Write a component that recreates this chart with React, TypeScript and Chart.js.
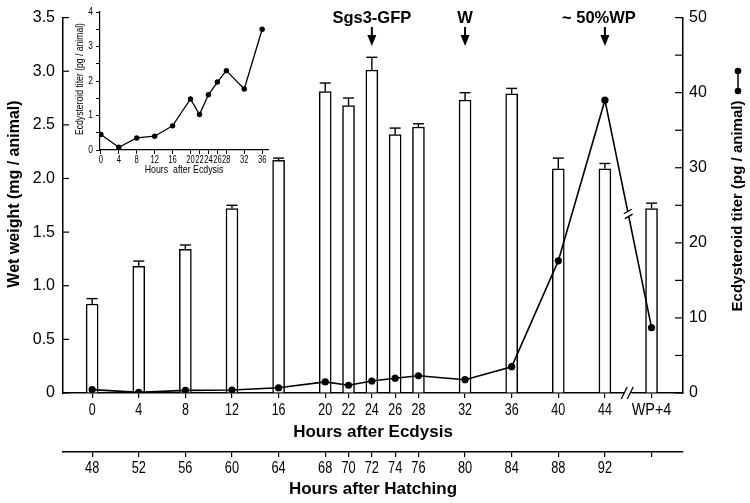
import React, { useEffect, useRef } from 'react';
import { Chart, registerables } from 'chart.js';

Chart.register(...registerables);

// ---------- data ----------
const ecdysisHours = [0, 4, 8, 12, 16, 20, 22, 24, 26, 28, 32, 36, 40, 44, 48];
const ecdysisLabels = ['0', '4', '8', '12', '16', '20', '22', '24', '26', '28', '32', '36', '40', '44', 'WP+4'];
const hatchingLabels = ['48', '52', '56', '60', '64', '68', '70', '72', '74', '76', '80', '84', '88', '92', ''];
const wetWeight = [0.83, 1.18, 1.34, 1.72, 2.17, 2.81, 2.68, 3.01, 2.41, 2.48, 2.73, 2.79, 2.09, 2.09, 1.72];
const wetWeightErr = [0.05, 0.05, 0.04, 0.03, 0.02, 0.08, 0.07, 0.12, 0.06, 0.03, 0.07, 0.05, 0.1, 0.05, 0.05];
const titer = [0.45, 0.08, 0.35, 0.4, 0.7, 1.48, 1.03, 1.6, 1.97, 2.3, 1.77, 3.5, 17.6, 39.0, 8.7];
const insetHours = [0, 4, 8, 12, 16, 20, 22, 24, 26, 28, 32, 36];
const insetTiter = [0.45, 0.08, 0.35, 0.4, 0.7, 1.48, 1.03, 1.6, 1.97, 2.3, 1.77, 3.5];
const insetYLabels = [0, 1, 2, 3, 4];
const markerHours = [24, 32, 44];
const markerTexts = ['Sgs3-GFP', 'W', '~ 50%WP'];
const breakHour = 46;

const SANS = '"Liberation Sans", Arial, Helvetica, sans-serif';

// draw horizontally condensed text
function narrowText(
  ctx: CanvasRenderingContext2D,
  text: string,
  x: number,
  y: number,
  sx: number,
  align: CanvasTextAlign = 'center'
) {
  ctx.save();
  ctx.translate(x, y);
  ctx.scale(sx, 1);
  ctx.textAlign = align;
  ctx.fillText(text, 0, 0);
  ctx.restore();
}

const decorPlugin = {
  id: 'decor',
  afterDraw(chart: any) {
    const ctx = chart.ctx as CanvasRenderingContext2D;
    const xs = chart.scales.x;
    const ys = chart.scales.y;
    const y2s = chart.scales.y2;
    const area = chart.chartArea;
    const line = (x1: number, y1: number, x2: number, y2: number) => {
      ctx.beginPath();
      ctx.moveTo(x1, y1);
      ctx.lineTo(x2, y2);
      ctx.stroke();
    };
    ctx.save();
    ctx.strokeStyle = '#000';
    ctx.fillStyle = '#000';
    ctx.lineWidth = 1.2;
    // inward ticks
    ys.ticks.forEach((t: any) => {
      const py = ys.getPixelForValue(t.value);
      line(area.left, py, area.left + 6, py);
    });
    y2s.ticks.forEach((t: any) => {
      const py = y2s.getPixelForValue(t.value);
      line(area.right - 8, py, area.right, py);
    });
    // error bars
    ctx.lineWidth = 1.4;
    ecdysisHours.forEach((h, i) => {
      const px = xs.getPixelForValue(h);
      const top = ys.getPixelForValue(wetWeight[i]);
      const e = ys.getPixelForValue(wetWeight[i] + wetWeightErr[i]);
      line(px, top, px, e);
      line(px - 5.5, e, px + 5.5, e);
    });
    // x tick labels (condensed)
    ctx.font = `16px ${SANS}`;
    ctx.textBaseline = 'middle';
    ecdysisHours.forEach((h, i) => {
      const px = xs.getPixelForValue(h);
      const lab = ecdysisLabels[i];
      narrowText(ctx, lab, px, 411, lab.length > 2 ? 0.9 : 0.78);
      narrowText(ctx, hatchingLabels[i], px, 469, 0.8);
    });
    // axis break
    const bx = xs.getPixelForValue(breakHour);
    const by = area.bottom;
    ctx.fillStyle = '#fff';
    ctx.fillRect(bx - 4, by - 2, 7, 4);
    ctx.fillStyle = '#000';
    ctx.lineWidth = 1.3;
    line(bx - 7, by + 6, bx - 1, by - 6);
    line(bx - 1, by + 6, bx + 5, by - 6);
    // line break
    const i44 = ecdysisHours.indexOf(44);
    const i48 = ecdysisHours.indexOf(48);
    const ax = xs.getPixelForValue(44), ay = y2s.getPixelForValue(titer[i44]);
    const cx2 = xs.getPixelForValue(48), cy2 = y2s.getPixelForValue(titer[i48]);
    const t = (bx - ax) / (cx2 - ax);
    const mx = ax + t * (cx2 - ax), my = ay + t * (cy2 - ay);
    const len = Math.hypot(cx2 - ax, cy2 - ay);
    const dx = (cx2 - ax) / len, dy = (cy2 - ay) / len;
    ctx.strokeStyle = '#fff';
    ctx.lineWidth = 4;
    line(mx - dx * 2.5, my - dy * 2.5, mx + dx * 2.5, my + dy * 2.5);
    ctx.strokeStyle = '#000';
    ctx.lineWidth = 1.3;
    [-2.5, 2.5].forEach((o) => {
      const px = mx + dx * o, py = my + dy * o;
      line(px - 4.5 * 0.87, py + 4.5 * 0.5, px + 4.5 * 0.87, py - 4.5 * 0.5);
    });
    // annotations
    ctx.font = `bold 16.5px ${SANS}`;
    ctx.textAlign = 'center';
    ctx.textBaseline = 'middle';
    markerHours.forEach((h, i) => {
      const px = xs.getPixelForValue(h);
      const off = i === 2 ? -6 : 0;
      ctx.fillText(markerTexts[i], px + off, 18);
      ctx.lineWidth = 2;
      line(px, 27, px, 36);
      ctx.beginPath();
      ctx.moveTo(px - 4.5, 35);
      ctx.lineTo(px + 4.5, 35);
      ctx.lineTo(px, 46);
      ctx.closePath();
      ctx.fill();
    });
    // left title
    ctx.save();
    ctx.translate(15, 194);
    ctx.rotate(-Math.PI / 2);
    ctx.font = `bold 16px ${SANS}`;
    ctx.fillText('Wet weight (mg / animal)', 0, 0);
    ctx.restore();
    // right title
    ctx.save();
    ctx.translate(738, 206);
    ctx.rotate(-Math.PI / 2);
    ctx.font = `bold 15px ${SANS}`;
    ctx.fillText('Ecdysteroid titer (pg / animal)', 0, 0);
    ctx.restore();
    // legend marker
    ctx.lineWidth = 1.5;
    line(738, 71, 738, 91);
    [71, 91].forEach((yy) => {
      ctx.beginPath();
      ctx.arc(738, yy, 3.3, 0, Math.PI * 2);
      ctx.fill();
    });
    ctx.restore();
  },
};

const insetPlugin = {
  id: 'insetText',
  afterDraw(chart: any) {
    const ctx = chart.ctx as CanvasRenderingContext2D;
    const xs = chart.scales.x;
    const ys = chart.scales.y;
    const area = chart.chartArea;
    ctx.save();
    ctx.fillStyle = '#000';
    ctx.textBaseline = 'middle';
    ctx.font = `10px ${SANS}`;
    insetHours.forEach((h) => {
      narrowText(ctx, String(h), xs.getPixelForValue(h), area.bottom + 10, 0.76);
    });
    insetYLabels.forEach((v) => {
      narrowText(ctx, String(v), area.left - 7, ys.getPixelForValue(v), 0.84, 'right');
    });
    ctx.font = `11px ${SANS}`;
    narrowText(ctx, 'Hours  after Ecdysis', (area.left + area.right) / 2, area.bottom + 20, 0.8);
    ctx.save();
    ctx.translate(20, (area.top + area.bottom) / 2 - 2);
    ctx.rotate(-Math.PI / 2);
    ctx.scale(0.82, 1);
    ctx.font = `10.5px ${SANS}`;
    ctx.textAlign = 'center';
    ctx.fillText('Ecdysteroid titer (pg / animal)', 0, 0);
    ctx.restore();
    ctx.restore();
  },
};

export default function App() {
  const mainRef = useRef<HTMLCanvasElement>(null);
  const insetRef = useRef<HTMLCanvasElement>(null);

  useEffect(() => {
    Chart.defaults.font.family = SANS;
    Chart.defaults.color = '#000';
    const bottomAxis = (title: string, height: number, weight: number, titlePad: number) => ({
      type: 'linear',
      position: 'bottom',
      min: -2.5,
      max: 50.7,
      offset: false,
      weight,
      afterFit: (s: any) => {
        s.height = height;
      },
      afterBuildTicks: (s: any) => {
        s.ticks = ecdysisHours.map((v) => ({ value: v }));
      },
      ticks: { display: false, autoSkip: false, maxRotation: 0 },
      grid: {
        offset: false,
        drawOnChartArea: false,
        drawTicks: true,
        tickLength: 5,
        color: '#000',
        lineWidth: 1.2,
      },
      border: { color: '#000', width: 1.5 },
      title: {
        display: true,
        text: title,
        color: '#000',
        font: { family: SANS, size: 17, weight: 'bold' },
        padding: { top: 0, bottom: titlePad },
      },
    });

    const main = new Chart(mainRef.current!, {
      type: 'bar',
      data: {
        datasets: [
          {
            type: 'line',
            label: 'Ecdysteroid titer',
            data: ecdysisHours.map((h, i) => ({ x: h, y: titer[i] })),
            xAxisID: 'x',
            yAxisID: 'y2',
            borderColor: '#000',
            borderWidth: 1.6,
            pointRadius: 3.6,
            pointBackgroundColor: '#000',
            pointBorderWidth: 0,
            tension: 0,
            order: 0,
          } as any,
          {
            type: 'bar',
            label: 'Wet weight',
            data: ecdysisHours.map((h, i) => ({ x: h, y: wetWeight[i] })),
            xAxisID: 'x',
            yAxisID: 'y',
            backgroundColor: '#fff',
            borderColor: '#000',
            borderWidth: 1.5,
            barThickness: 12,
            order: 1,
          } as any,
        ],
      },
      options: {
        responsive: false,
        animation: false,
        layout: { padding: { top: 12, left: 0, right: 0, bottom: 0 } },
        plugins: { legend: { display: false }, tooltip: { enabled: false } },
        scales: {
          x: bottomAxis('Hours after Ecdysis', 59, 0, 9) as any,
          x2: bottomAxis('Hours after Hatching', 51, 1, 3) as any,
          y: {
            type: 'linear',
            position: 'left',
            min: 0,
            max: 3.5,
            afterFit: (s: any) => {
              s.width = 63;
            },
            ticks: {
              stepSize: 0.5,
              padding: 8,
              color: '#000',
              font: { family: SANS, size: 16 },
              callback: (v: any) => (Number(v) === 0 ? '0' : Number(v).toFixed(1)),
            },
            grid: { drawOnChartArea: false, drawTicks: false },
            border: { color: '#000', width: 1.5 },
          },
          y2: {
            type: 'linear',
            position: 'right',
            min: 0,
            max: 50,
            afterFit: (s: any) => {
              s.width = 67;
            },
            ticks: {
              stepSize: 5,
              padding: 6,
              color: '#000',
              font: { family: SANS, size: 16 },
              callback: (v: any) => (Number(v) % 10 === 0 ? String(v) : ''),
            },
            grid: { drawOnChartArea: false, drawTicks: false },
            border: { color: '#000', width: 1.5 },
          },
        },
      } as any,
      plugins: [decorPlugin],
    });

    const inset = new Chart(insetRef.current!, {
      type: 'line',
      data: {
        datasets: [
          {
            label: 'Ecdysteroid titer',
            data: insetHours.map((h, i) => ({ x: h, y: insetTiter[i] })),
            borderColor: '#000',
            borderWidth: 1.3,
            pointRadius: 2.7,
            pointBackgroundColor: '#000',
            pointBorderWidth: 0,
            tension: 0,
          },
        ],
      },
      options: {
        responsive: false,
        animation: false,
        layout: { padding: { top: 12, right: 12, left: 0, bottom: 0 } },
        plugins: { legend: { display: false }, tooltip: { enabled: false } },
        scales: {
          x: {
            type: 'linear',
            min: -0.2,
            max: 37.3,
            afterFit: (s: any) => {
              s.height = 30;
            },
            afterBuildTicks: (s: any) => {
              s.ticks = insetHours.map((v) => ({ value: v }));
            },
            ticks: { display: false, autoSkip: false, maxRotation: 0 },
            grid: { drawOnChartArea: false, tickLength: 4, color: '#000', lineWidth: 1 },
            border: { color: '#000', width: 1.2 },
          },
          y: {
            type: 'linear',
            min: 0,
            max: 4,
            afterFit: (s: any) => {
              s.width = 40;
            },
            ticks: { display: false, stepSize: 0.5 },
            grid: { drawOnChartArea: false, tickLength: 4, color: '#000', lineWidth: 1 },
            border: { color: '#000', width: 1.2 },
          },
        },
      } as any,
      plugins: [insetPlugin],
    });

    return () => {
      main.destroy();
      inset.destroy();
    };
  }, []);

  return (
    <div style={{ position: 'fixed', left: 0, top: 0, width: 750, height: 503, background: '#fff' }}>
      <canvas
        ref={mainRef}
        width={750}
        height={503}
        style={{ position: 'absolute', left: 0, top: 0, width: 750, height: 503 }}
      />
      <canvas
        ref={insetRef}
        width={220}
        height={180}
        style={{ position: 'absolute', left: 60, top: 0, width: 220, height: 180, pointerEvents: 'none' }}
      />
    </div>
  );
}
